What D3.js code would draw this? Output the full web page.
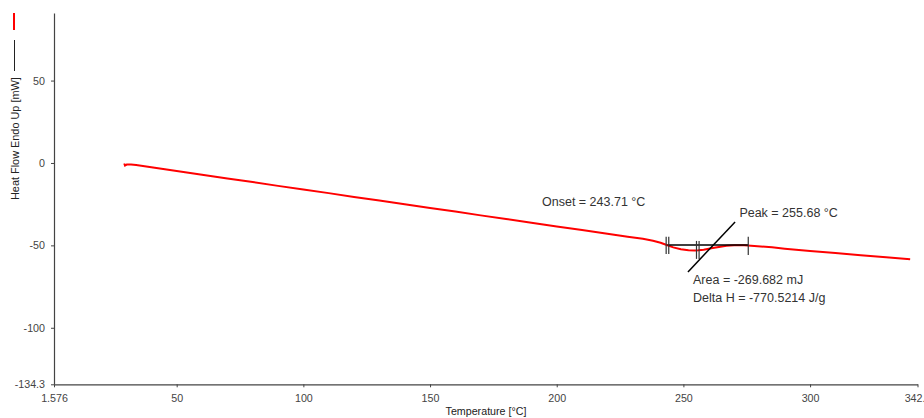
<!DOCTYPE html>
<html>
<head>
<meta charset="utf-8">
<script src="https://cdn.jsdelivr.net/npm/d3@7"></script>
<style>
  body { margin: 0; background: #fff; overflow: hidden; }
  text { font-family: "Liberation Sans", Arial, sans-serif; }
</style>
</head>
<body>
<svg id="svg"></svg>
<script>
// DSC scan, heat flow vs temperature
const temperature = [29.3, 29.6, 30.3, 32, 34, 40, 50, 60, 70, 80, 90, 100, 110, 120, 130, 140, 150, 160, 170, 180,
  190, 200, 210, 220, 228, 234, 238, 241, 243.7, 246, 249, 252, 254.5, 256, 258, 261, 264, 267, 270, 274, 278,
  285, 290, 300, 310, 320, 330, 339.5];
const heatFlow = [-0.3, -1.6, -1.0, -1.0, -1.3, -2.6, -4.9, -7.1, -9.4, -11.6, -13.9, -16.1, -18.3, -20.6, -22.8, -25.1,
  -27.3, -29.5, -31.8, -34.0, -36.3, -38.5, -40.7, -43.0, -44.8, -46.0, -47.2, -48.4, -49.9, -51.2, -52.3, -52.9,
  -53.1, -53.0, -52.6, -51.8, -51.0, -50.3, -49.9, -49.9, -50.4, -51.2, -52.0, -53.4, -54.7, -56.0, -57.2, -58.4];

// axis ranges and tick labels
const xDomain = [1.576, 342.4];
const yDomain = [-134.3, 91.0];
const xTicks = [1.576, 50, 100, 150, 200, 250, 300, 342.4];
const xTickLabels = ['1.576', '50', '100', '150', '200', '250', '300', '342.4'];
const yTicks = [-134.3, -100, -50, 0, 50];
const yTickLabels = ['-134.3', '-100', '-50', '0', '50'];

// peak analysis
const onsetT = 243.71;
const peakT = 255.68;
const endT = 275.6;
const baselineValue = -49.8;
const peakLine = [[251.8, -66.1], [270.4, -35.8]];
const annotations = [
  { t: 194.2, v: -26.0, text: 'Onset = 243.71 °C' },
  { t: 272.1, v: -32.5, text: 'Peak = 255.68 °C' },
  { t: 253.8, v: -73.4, text: 'Area = -269.682 mJ' },
  { t: 253.8, v: -84.1, text: 'Delta H = -770.5214 J/g' }
];

const width = 924;
const height = 418;
const margin = { left: 54, right: 6.5, top: 13, bottom: 33.7 };

const svg = d3.select('#svg')
  .attr('width', width)
  .attr('height', height);

const x = d3.scaleLinear()
  .domain(xDomain)
  .range([margin.left, width - margin.right]);

const y = d3.scaleLinear()
  .domain(yDomain)
  .range([height - margin.bottom, margin.top]);

// x axis
const xAxis = d3.axisBottom(x)
  .tickValues(xTicks)
  .tickFormat((d, i) => xTickLabels[i])
  .tickSize(3)
  .tickSizeOuter(0)
  .tickPadding(7);

const gx = svg.append('g')
  .attr('transform', `translate(0, ${height - margin.bottom})`)
  .call(xAxis);

// y axis
const yAxis = d3.axisLeft(y)
  .tickValues(yTicks)
  .tickFormat((d, i) => yTickLabels[i])
  .tickSize(3)
  .tickSizeOuter(0)
  .tickPadding(6);

const gy = svg.append('g')
  .attr('transform', `translate(${margin.left}, 0)`)
  .call(yAxis);

[gx, gy].forEach(g => {
  g.select('.domain').attr('stroke', '#444').attr('stroke-width', 1.2);
  g.selectAll('.tick line').attr('stroke', '#444');
  g.selectAll('.tick text')
    .attr('fill', '#444')
    .attr('font-size', '10.7px');
});

// axis titles
svg.append('text')
  .attr('x', 486)
  .attr('y', 415)
  .attr('text-anchor', 'middle')
  .attr('font-size', '10.7px')
  .attr('fill', '#222')
  .text('Temperature [°C]');

svg.append('text')
  .attr('transform', 'translate(18.5, 200) rotate(-90)')
  .attr('font-size', '10.9px')
  .attr('fill', '#222')
  .text('Heat Flow Endo Up [mW]');

// little legend on the y title
svg.append('line')
  .attr('x1', 14.5).attr('x2', 14.5)
  .attr('y1', 40).attr('y2', 71)
  .attr('stroke', '#222')
  .attr('stroke-width', 1);

svg.append('line')
  .attr('x1', 14).attr('x2', 14)
  .attr('y1', 13).attr('y2', 30)
  .attr('stroke', 'red')
  .attr('stroke-width', 2);

// the curve
const points = temperature.map((t, i) => [t, heatFlow[i]]);

const line = d3.line()
  .x(d => x(d[0]))
  .y(d => y(d[1]));

svg.append('path')
  .datum(points)
  .attr('d', line)
  .attr('fill', 'none')
  .attr('stroke', 'red')
  .attr('stroke-width', 2);

// peak integration baseline and markers
const ann = svg.append('g').attr('stroke', 'black').attr('fill', 'none');

ann.append('line')
  .attr('x1', x(onsetT)).attr('x2', x(endT))
  .attr('y1', y(baselineValue)).attr('y2', y(baselineValue))
  .attr('stroke-width', 1.5);

const markers = [
  { t: onsetT, top: -44.8, bottom: -55.3, double: true },
  { t: peakT, top: -47.3, bottom: -58.2, double: true },
  { t: endT, top: -44.7, bottom: -55.8, double: false }
];

markers.forEach(m => {
  const offsets = m.double ? [-1.3, 1.3] : [0];
  offsets.forEach(o => {
    ann.append('line')
      .attr('x1', x(m.t) + o).attr('x2', x(m.t) + o)
      .attr('y1', y(m.top)).attr('y2', y(m.bottom))
      .attr('stroke', '#333')
      .attr('stroke-width', 1.2);
  });
});

ann.append('path')
  .datum(peakLine)
  .attr('d', line)
  .attr('stroke-width', 1.5);

// text annotations
svg.selectAll('.note')
  .data(annotations)
  .enter()
  .append('text')
  .attr('class', 'note')
  .attr('x', d => x(d.t))
  .attr('y', d => y(d.v))
  .attr('font-size', '12.5px')
  .attr('fill', '#333')
  .text(d => d.text);
</script>
</body>
</html>
